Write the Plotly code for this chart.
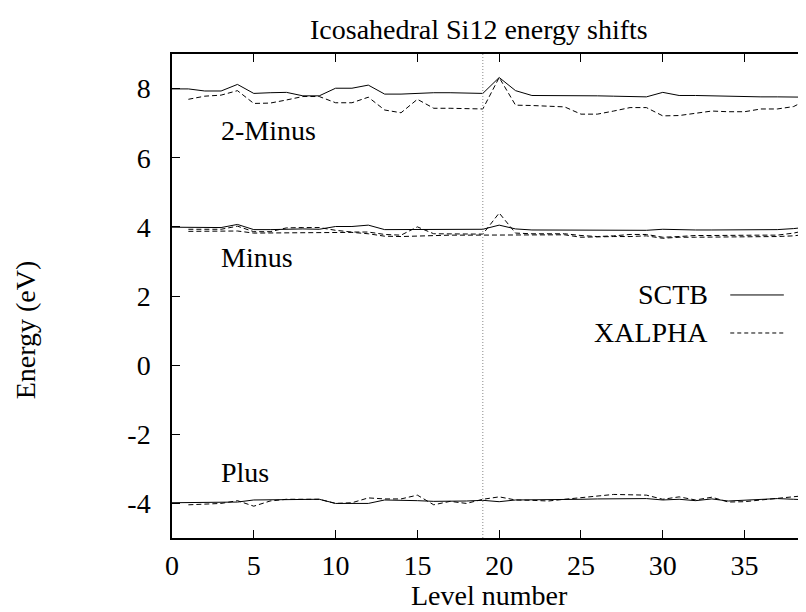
import plotly.graph_objects as go

# Level numbers
levels_sctb = list(range(0, 40))
levels_xa = list(range(1, 40))

# 2-Minus group
twominus_sctb = [7.99, 7.99, 7.93, 7.93, 8.12, 7.86, 7.88, 7.89, 7.79, 7.79,
                 8.01, 8.01, 8.10, 7.84, 7.84, 7.87, 7.88, 7.88, 7.86, 7.86,
                 8.32, 7.94, 7.80, 7.80, 7.81, 7.80, 7.79, 7.78, 7.76, 7.76,
                 7.89, 7.80, 7.80, 7.79, 7.76, 7.76, 7.76, 7.76, 7.75, 7.75]
twominus_xa = [7.69, 7.78, 7.81, 7.94, 7.57, 7.58, 7.67, 7.77, 7.77,
               7.59, 7.59, 7.75, 7.38, 7.30, 7.69, 7.43, 7.43, 7.41, 7.41,
               8.32, 7.52, 7.51, 7.49, 7.47, 7.26, 7.26, 7.35, 7.45, 7.45,
               7.21, 7.22, 7.29, 7.35, 7.33, 7.33, 7.41, 7.41, 7.48, 7.72]

# Minus group
minus_sctb = [3.99, 3.99, 3.98, 3.98, 4.07, 3.92, 3.92, 3.94, 3.94, 3.93,
              4.01, 4.01, 4.05, 3.92, 3.92, 3.93, 3.93, 3.93, 3.93, 3.93,
              4.05, 3.94, 3.91, 3.91, 3.91, 3.91, 3.91, 3.90, 3.90, 3.90,
              3.93, 3.91, 3.91, 3.91, 3.91, 3.91, 3.91, 3.92, 3.95, 4.00]
minus_xa_a = [3.87, 3.87, 3.87, 3.88, 3.82, 3.82, 3.84, 3.84, 3.84,
              3.84, 3.84, 3.80, 3.73, 3.72, 3.74, 3.76, 3.76, 3.76, 3.76,
              3.78, 3.77, 3.77, 3.77, 3.77, 3.70, 3.72, 3.72, 3.72, 3.74,
              3.67, 3.70, 3.70, 3.70, 3.72, 3.72, 3.72, 3.72, 3.74, 3.80]
minus_xa_b = [3.93, 3.93, 3.93, 4.02, 3.86, 3.86, 3.97, 3.98, 3.98,
              3.90, 3.85, 3.85, 3.78, 3.76, 4.00, 3.80, 3.79, 3.79, 3.79,
              4.40, 3.82, 3.80, 3.80, 3.80, 3.75, 3.72, 3.74, 3.78, 3.78,
              3.70, 3.72, 3.75, 3.75, 3.76, 3.76, 3.76, 3.76, 3.82, 3.92]

# Plus group
plus_sctb = [-3.98, -3.98, -3.97, -3.96, -3.96, -3.90, -3.89, -3.88, -3.88, -3.88,
             -4.00, -4.00, -4.00, -3.90, -3.90, -3.92, -3.94, -3.94, -3.93, -3.91,
             -3.95, -3.90, -3.90, -3.90, -3.89, -3.88, -3.87, -3.86, -3.86, -3.86,
             -3.90, -3.88, -3.92, -3.87, -3.93, -3.90, -3.88, -3.86, -3.88, -3.90]
plus_xa = [-4.04, -4.02, -4.00, -3.92, -4.08, -3.93, -3.88, -3.88, -3.88,
           -4.00, -3.98, -3.84, -3.87, -3.87, -3.76, -4.04, -3.94, -4.00, -3.88,
           -3.81, -3.90, -3.91, -3.93, -3.88, -3.84, -3.80, -3.74, -3.75, -3.76,
           -3.88, -3.81, -3.90, -3.82, -3.96, -3.95, -3.90, -3.85, -3.79, -3.76]

x_ticks = [0, 5, 10, 15, 20, 25, 30, 35]
x_ticktext = ["0", "5", "10", "15", "20", "25", "30", "35"]
y_ticks = [-4, -2, 0, 2, 4, 6, 8]
y_ticktext = ["-4", "-2", "0", "2", "4", "6", "8"]
divider_level = 19

group_labels = ["2-Minus", "Minus", "Plus"]
group_label_y = [6.8, 3.1, -3.1]
group_label_x = 2.9

FONT = "Liberation Serif"
FS = 28

fig = go.Figure()
solid = dict(color="black", width=1)
dashed = dict(color="black", width=1, dash="5px,3px")

for ys in [twominus_sctb, minus_sctb, plus_sctb]:
    fig.add_trace(go.Scatter(x=levels_sctb, y=ys, mode="lines", line=solid,
                             name="SCTB", showlegend=False, hoverinfo="skip"))
for ys in [twominus_xa, minus_xa_a, minus_xa_b, plus_xa]:
    fig.add_trace(go.Scatter(x=levels_xa, y=ys, mode="lines", line=dashed,
                             name="XALPHA", showlegend=False, hoverinfo="skip"))

# vertical divider
fig.add_shape(type="line", xref="x", yref="paper", x0=divider_level, x1=divider_level,
              y0=0, y1=1, line=dict(color="#888888", width=1, dash="1px,2px"))

annotations = []
for lab, yy in zip(group_labels, group_label_y):
    annotations.append(dict(x=group_label_x, y=yy, xref="x", yref="y", text=lab,
                            showarrow=False, xanchor="left", yanchor="middle",
                            font=dict(family=FONT, size=FS, color="black")))

# legend (text left, sample right)
leg_names = ["SCTB", "XALPHA"]
leg_y = [2.03, 0.93]
leg_dash = ["solid", "4px,3px"]
for nm, yy, ds in zip(leg_names, leg_y, leg_dash):
    annotations.append(dict(x=0.8437, y=yy, xref="paper", yref="y", text=nm,
                            showarrow=False, xanchor="right", yanchor="middle",
                            font=dict(family=FONT, size=FS, color="black")))
    fig.add_shape(type="line", xref="paper", yref="y", x0=0.875, x1=0.959,
                  y0=yy, y1=yy, line=dict(color="black", width=1, dash=ds))

# titles
annotations.append(dict(x=0.481, y=1.0496, xref="paper", yref="paper",
                        text="Icosahedral Si12 energy shifts", showarrow=False,
                        xanchor="center", yanchor="middle",
                        font=dict(family=FONT, size=FS, color="black")))
annotations.append(dict(x=0.498, y=-0.119, xref="paper", yref="paper",
                        text="Level number", showarrow=False,
                        xanchor="center", yanchor="middle",
                        font=dict(family=FONT, size=FS, color="black")))
annotations.append(dict(x=-0.2297, y=0.43, xref="paper", yref="paper",
                        text="Energy (eV)", showarrow=False, textangle=-90,
                        xanchor="center", yanchor="middle",
                        font=dict(family=FONT, size=FS, color="black")))

fig.update_layout(
    width=806, height=612,
    margin=dict(l=164, r=2, t=46, b=82, pad=0),
    paper_bgcolor="white", plot_bgcolor="white",
    showlegend=False,
    annotations=annotations,
    font=dict(family=FONT, size=FS, color="black"),
    xaxis=dict(range=[0, 39], tickvals=x_ticks, ticktext=x_ticktext,
               ticks="inside", ticklen=8,
               tickcolor="black", showline=True, linecolor="black", linewidth=1.5,
               mirror="ticks", showgrid=False, zeroline=False,
               tickfont=dict(family=FONT, size=FS, color="black"),
               ticklabelstandoff=2),
    yaxis=dict(range=[-5, 9], tickvals=y_ticks, ticktext=y_ticktext,
               ticks="inside", ticklen=8,
               tickcolor="black", showline=True, linecolor="black", linewidth=1.5,
               mirror="ticks", showgrid=False, zeroline=False,
               tickfont=dict(family=FONT, size=FS, color="black"),
               ticklabelstandoff=14),
)

fig.write_html("out.html")
